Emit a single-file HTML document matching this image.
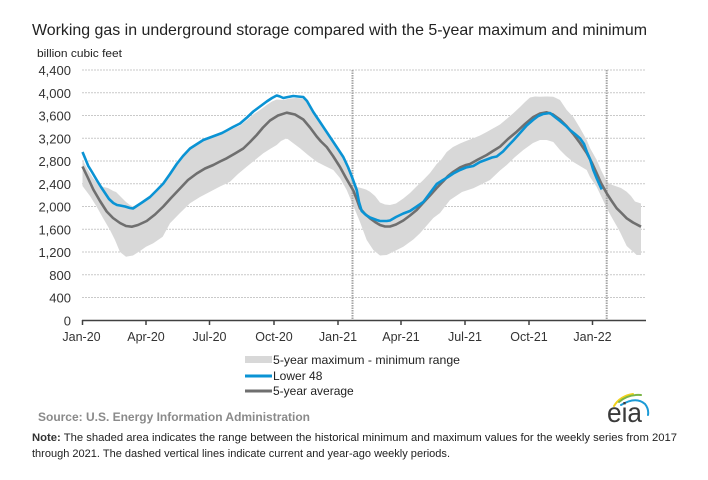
<!DOCTYPE html>
<html><head><meta charset="utf-8"><style>
html,body{margin:0;padding:0;background:#fff;}
svg{display:block;}
text{font-family:"Liberation Sans",Arial,sans-serif;}
</style></head><body>
<svg width="708" height="480" viewBox="0 0 708 480" xmlns="http://www.w3.org/2000/svg">
<rect width="708" height="480" fill="#fff"/>
<text x="32" y="35" font-size="16" fill="#222" textLength="615" lengthAdjust="spacingAndGlyphs">Working gas in underground  storage compared with the 5-year maximum and minimum</text>
<text x="37" y="57" font-size="11" fill="#222" textLength="85" lengthAdjust="spacingAndGlyphs">billion cubic feet</text>
<g stroke="#c9c9c9" stroke-width="1" stroke-dasharray="2,1">
<line x1="82" y1="70" x2="646" y2="70"/>
<line x1="82" y1="92.8" x2="646" y2="92.8"/>
<line x1="82" y1="115.5" x2="646" y2="115.5"/>
<line x1="82" y1="138.3" x2="646" y2="138.3"/>
<line x1="82" y1="161" x2="646" y2="161"/>
<line x1="82" y1="183.8" x2="646" y2="183.8"/>
<line x1="82" y1="206.5" x2="646" y2="206.5"/>
<line x1="82" y1="229.3" x2="646" y2="229.3"/>
<line x1="82" y1="252" x2="646" y2="252"/>
<line x1="82" y1="274.8" x2="646" y2="274.8"/>
<line x1="82" y1="297.5" x2="646" y2="297.5"/>
</g>
<g font-size="13" fill="#333" text-anchor="end">
<text x="71" y="75">4,400</text>
<text x="71" y="97.8">4,000</text>
<text x="71" y="120.5">3,600</text>
<text x="71" y="143.3">3,200</text>
<text x="71" y="166">2,800</text>
<text x="71" y="188.8">2,400</text>
<text x="71" y="211.5">2,000</text>
<text x="71" y="234.3">1,600</text>
<text x="71" y="257">1,200</text>
<text x="71" y="279.8">800</text>
<text x="71" y="302.5">400</text>
<text x="71" y="325.3">0</text>
</g>
<polygon fill="#d8d8d8" points="82.5,160 88,170 93,178 98,184 103.3,187 108,188 113.3,191 116,192 120,196 126,202 130,205 133,206.5 136.7,204.5 142,201.5 150,196 157,189 163.3,182.5 170,172.5 176.7,162.5 183,154.5 190,147.5 197,143.5 203.3,140 210,137.5 216.7,135.5 222,134 226.7,132 233,128.5 240,125.5 247,120 253.3,114.5 260,110 266.7,105 272,101.5 276.7,99.5 283.3,100 290,98.5 296,98 303.3,98.5 307,102 313.3,113 320,122.5 326,131 330,137 336,146 343.3,158 348,167 352,176 355,183 357,187 361,188 366,189.5 370,191.7 375,196 380,202.5 385,204.5 390,205 396,203.5 403.3,198.5 410,193 416,187 423.3,180 430,173 436.7,164 441,160 446.7,152 453,147 460,143.5 466,141 473.3,138.3 480,135.5 486.7,132 493.3,128.3 500,124.5 506,119.5 513.3,113.3 520,107 525,102 530,97.5 535,96.5 540,96.7 546.7,96.5 553.3,96.7 558,99 560,100 566.7,110 573.3,117 580,128 586.7,140 590,148 596.7,160 601,170 606.7,181.5 611,184.5 616.7,186.5 621,188 626.7,191.7 631,196 635,201.5 641,203.5 641,255 636.7,255 630,249 626.7,246 620,232 616.7,226 611,216 606.7,208 601,196 596.7,187 590,177 586.7,170 580,166 573.3,162 566,156 560,150 553.3,142 546.7,140 540,140 533,143 523.3,150 515,157 506.7,165 500,170.5 490,180 480,185 473.3,188.3 462,192 450,200 440,213 433.3,218 420,233.3 413.3,239.5 403.3,246.7 393.3,251.7 386.7,255 380,255.5 373.3,250 366.7,240 360,222 356.7,214 353,205 346.7,190 340,178 333.3,170 325,166 316.7,161.7 308,155 300,148.3 293,143 286.7,138.3 281,141 276.7,145 270,149 263.3,153.3 255,160 246.7,166.7 238,174 230,181.7 220,186.5 210,191.7 200,197 190,203.3 180,213 170,223.3 162.7,236.7 153.3,243.3 146,246.7 140,251 133,255.5 126,256.7 120,252 115,240 110,230 103,218 96.7,206.7 90,196 82.5,186"/>
<g stroke="#a3a3a3" stroke-width="2" stroke-dasharray="1.5,1">
<line x1="352.5" y1="70" x2="352.5" y2="320"/>
<line x1="606.7" y1="70" x2="606.7" y2="320"/>
</g>
<polyline fill="none" stroke="#6f6f6f" stroke-width="2.6" stroke-linejoin="round" points="82.5,166.5 88,178 93.3,189.5 100,201 106.7,211.5 113,218 120,223 126,226 131.7,226.7 138,225 146.7,221 155,214.5 163.3,206.5 171,198 180,188.5 188,180 196.7,173.5 205,168.5 213.3,165 220,161.5 226.7,158.3 235,153.5 243.3,148.5 250,142 256.7,135 263,127.5 270,120.5 278,115.5 286.7,112.7 295,114.5 303.3,119.5 310,127.5 316.7,136.5 321,141.5 326.7,147 333,156 340,167 346,178 353.3,190.5 357,200 360,208.3 365,214 370,218.3 375,222 380,225 385,226.5 390,226.5 396,224.5 403.3,220.5 410,215.5 416.7,210 423,203 430,195.5 436.7,188 443,181.5 448,176 453.3,171.8 460,167.5 466,165 470,164 478,159.5 486.7,155 493,151 500,146.7 508,139 516.7,131.7 525,124 533.3,117 540,113.5 546.7,112.3 553,114.5 560,119.5 566,125.5 573.3,134 580,143 586.7,153 592,163 596.7,173.3 601,183 606.7,193.3 611,200 616.7,208.3 621,212.5 626.7,218.3 633,222.5 641,226.7"/>
<polyline fill="none" stroke="#0a93d4" stroke-width="2.6" stroke-linejoin="round" points="82.5,152 85,158 88.3,166 92,172 96.7,180 101,187 105,193 109,199 113.3,203 117,205 120,205.5 125,206.5 130,208 133,208.5 136.7,206 142,202.5 150,197 157,190 163.3,183.5 170,174 176.7,164 183,156 190,148.5 197,144 203.3,140 210,137.5 216.7,135 222,133 226.7,130.5 233,127 240,123.5 247,117.5 253.3,111.5 260,106.5 266.7,101.5 272,98 276.7,95.5 280,96.5 283.3,98 288,97 293.3,96 298,96.5 303.3,97 307,101 313.3,112 320,122 326,131 330,137 336,146 343.3,157 348,167 352,177 356.7,190 359,202 361.7,211 366,215 370,217.5 376.7,220 380,221 386.7,221 390,220.5 396,217 403.3,213.5 410,211 416,207 423.3,202 430,193 436.7,184 443,180 448,177 453.3,173.5 460,170 466,167.5 473.3,166 480,162 486.7,159.5 492,157.5 496.7,156.5 503,151.5 508,146 513.3,140.5 520,133 526.7,125.5 533,120 538.3,116 543,114 546.7,113.5 550,113 553,115.5 560,121 566,126 570,130 575,134 580,138.3 584,144 586.7,151.5 590,159 593.3,170 597,179 601.7,189.5"/>
<g stroke="#404040" stroke-width="1.5">
<line x1="82" y1="320.5" x2="646" y2="320.5"/>
<line x1="82.5" y1="320" x2="82.5" y2="325"/>
<line x1="146" y1="320" x2="146" y2="325"/>
<line x1="209.5" y1="320" x2="209.5" y2="325"/>
<line x1="274" y1="320" x2="274" y2="325"/>
<line x1="338" y1="320" x2="338" y2="325"/>
<line x1="401" y1="320" x2="401" y2="325"/>
<line x1="465" y1="320" x2="465" y2="325"/>
<line x1="529" y1="320" x2="529" y2="325"/>
<line x1="592.5" y1="320" x2="592.5" y2="325"/>
</g>
<g font-size="12.5" fill="#333" text-anchor="middle">
<text x="81.5" y="341">Jan-20</text>
<text x="146" y="341">Apr-20</text>
<text x="209.5" y="341">Jul-20</text>
<text x="274" y="341">Oct-20</text>
<text x="338" y="341">Jan-21</text>
<text x="401" y="341">Apr-21</text>
<text x="465" y="341">Jul-21</text>
<text x="529" y="341">Oct-21</text>
<text x="592.5" y="341">Jan-22</text>
</g>
<rect x="245" y="356" width="27" height="7" fill="#d8d8d8"/>
<line x1="245" y1="376" x2="272" y2="376" stroke="#0a93d4" stroke-width="3"/>
<line x1="245" y1="391" x2="272" y2="391" stroke="#6f6f6f" stroke-width="3"/>
<g font-size="12" fill="#222">
<text x="273" y="364" textLength="187" lengthAdjust="spacingAndGlyphs">5-year maximum - minimum range</text>
<text x="273" y="380">Lower 48</text>
<text x="273" y="395">5-year average</text>
</g>
<text x="38" y="421" font-size="12" font-weight="bold" fill="#8a8a8a" textLength="272" lengthAdjust="spacingAndGlyphs">Source:  U.S. Energy Information Administration</text>
<text x="32" y="441" font-size="11" fill="#222" textLength="645" lengthAdjust="spacingAndGlyphs"><tspan font-weight="bold" fill="#333">Note:</tspan> The shaded area indicates the range between the historical minimum and maximum values for the weekly series from 2017</text>
<text x="32" y="457" font-size="11" fill="#222" textLength="418" lengthAdjust="spacingAndGlyphs">through 2021. The dashed vertical lines indicate current and year-ago weekly periods.</text>
<g fill="none" stroke-linecap="round">
<path d="M614,406 Q620,396 633,394" stroke="#f2d21b" stroke-width="2"/>
<path d="M619,402 Q628,394 641,395" stroke="#7ab648" stroke-width="2"/>
<path d="M621,405 Q636,396 645,404 Q649,409 648,415" stroke="#1b9ad6" stroke-width="2"/>
</g>
<text x="607" y="422" font-family="Liberation Serif, serif" font-size="28" fill="#3a3a3a" textLength="35" lengthAdjust="spacingAndGlyphs">eia</text>
</svg>
</body></html>
